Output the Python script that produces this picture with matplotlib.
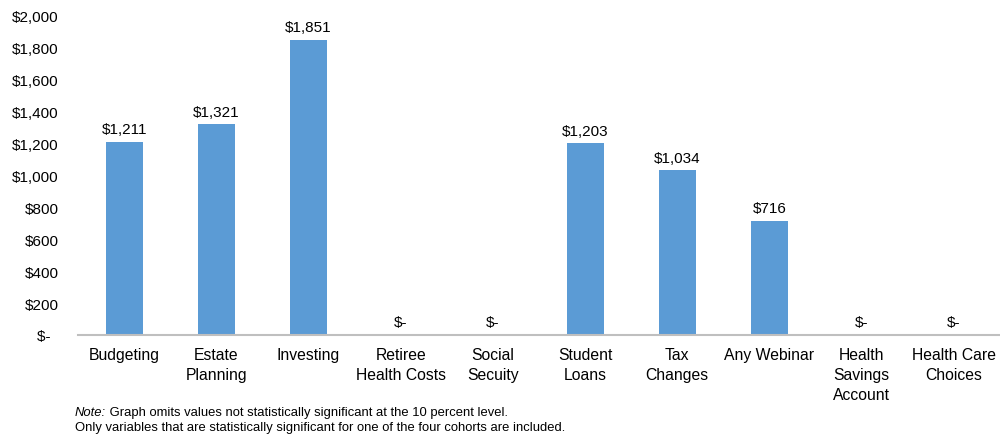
import matplotlib.pyplot as plt
import numpy as np

plt.rcParams["font.family"] = ["Liberation Sans", "DejaVu Sans"]

categories = ["Budgeting", "Estate\nPlanning", "Investing", "Retiree\nHealth Costs",
              "Social\nSecuity", "Student\nLoans", "Tax\nChanges", "Any Webinar",
              "Health\nSavings\nAccount", "Health Care\nChoices"]
values = [1211, 1321, 1851, 0, 0, 1203, 1034, 716, 0, 0]
yticks = [0, 200, 400, 600, 800, 1000, 1200, 1400, 1600, 1800, 2000]


def money(v):
    return "$-" if v == 0 else f"${v:,.0f}"


fig = plt.figure(figsize=(10, 4.35), dpi=100)
ax = fig.add_axes([0.078, 0.2276, 0.922, 0.7334])

x = np.arange(len(categories))
ax.bar(x, values, width=0.4, color="#5B9BD5", zorder=2)

for xi, v in zip(x, values):
    ax.annotate(money(v), (xi, v), xytext=(0, 4), textcoords="offset points",
                ha="center", va="bottom", fontsize=11, color="#000000")

ax.set_xlim(-0.5, len(categories) - 0.5)
ax.set_ylim(0, 2000)
ax.set_yticks(yticks)
# accounting format: the dash for zero sits left of the digits
ax.set_yticklabels([money(v) + ("  " if v == 0 else "") for v in yticks], fontsize=11)
ax.set_xticks(x)
ax.set_xticklabels(categories, fontsize=11.3, linespacing=1.4)
ax.tick_params(length=0)
ax.tick_params(axis="y", pad=14)
ax.tick_params(axis="x", pad=9)

for side in ["top", "right", "left"]:
    ax.spines[side].set_visible(False)
ax.spines["bottom"].set_color("#BFBFBF")
ax.spines["bottom"].set_linewidth(1.5)

note = fig.text(0.075, 0.0506, "Note:", fontsize=9.4, style="italic", va="center")
ax.annotate(" Graph omits values not statistically significant at the 10 percent level.",
            xy=(1.0, 0.5), xycoords=note, ha="left", va="center", fontsize=9.4,
            annotation_clip=False)
fig.text(0.075, 0.0161, "Only variables that are statistically significant for one of the four cohorts are included.",
         fontsize=9.4, va="center")

fig.savefig("out.png", dpi=100)
